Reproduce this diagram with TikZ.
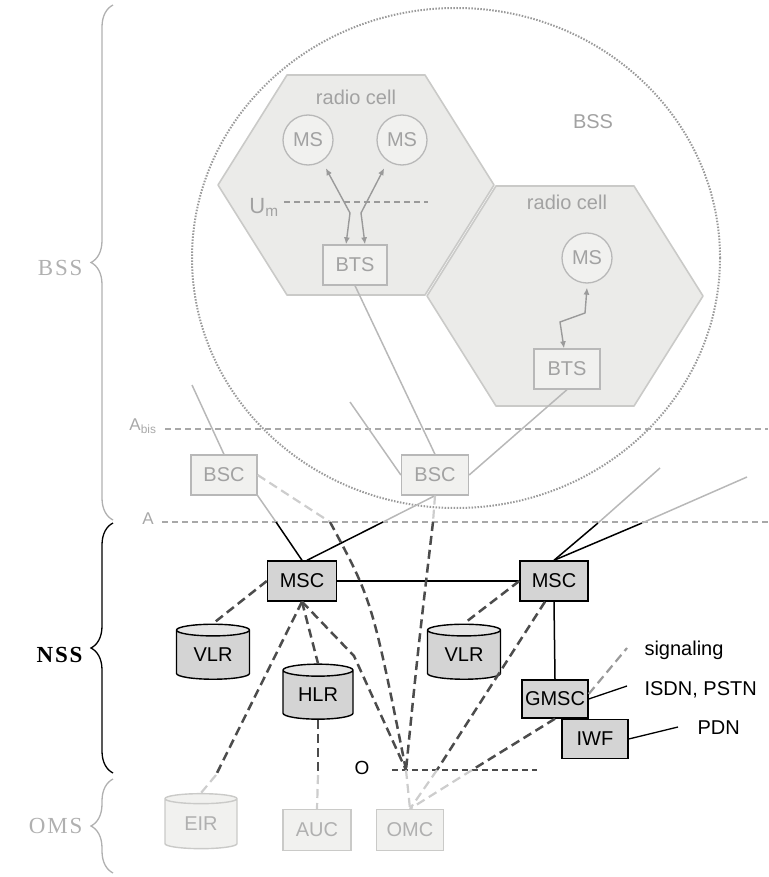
\documentclass[tikz,border=0pt]{standalone}
\usepackage{fontspec}
\setmainfont{Liberation Sans}
\newfontfamily\sideSerif[LetterSpace=8]{Liberation Serif}
\usepackage{tikz}
\usetikzlibrary{calc,arrows.meta}
\usetikzlibrary{shapes.geometric}
\usetikzlibrary{decorations.pathreplacing}
\usepackage{xcolor}

\begin{document}
\begin{tikzpicture}[
    >={Latex[length=7pt,width=6pt]}, x=1pt, y=-1pt,
    every node/.style={font=\fontsize{20}{24}\selectfont},
    accessBox/.style={draw=accessLine, fill=accessFill, text=accessText, line width=1.3pt, minimum width=66pt, minimum height=40pt, inner sep=0pt},
    coreBox/.style={draw=black, fill=coreFill, line width=1.4pt, minimum width=68pt, minimum height=40pt, inner sep=0pt},
    coreStore/.style={cylinder, shape border rotate=90, aspect=0.3, draw=black, line width=1.4pt, cylinder uses custom fill, cylinder body fill=coreFill, cylinder end fill=coreFill!60!white, minimum width=73pt, minimum height=55pt, inner sep=0pt},
    mobile/.style={circle, draw=accessLine, fill=accessFill, text=accessText, line width=1.3pt, minimum size=50pt, inner sep=0pt},
    cellStyle/.style={draw=cellLine, fill=cellFill, line width=1.6pt, line join=round},
    signalDash/.style={dash pattern=on 9pt off 5pt, line width=2.5pt, draw=signalDark},
    fadedDash/.style={dash pattern=on 9pt off 5pt, line width=2.2pt, draw=signalLight},
    trunk/.style={line width=1.5pt, draw=black},
    fadedTrunk/.style={line width=1.5pt, draw=accessLine},
    radioLink/.style={<->, line width=1.4pt, draw=radioGray},
    interfaceLine/.style={dash pattern=on 6pt off 4pt, line width=1.2pt, draw=ifaceGray},
]

% colors
\definecolor{cellFill}{HTML}{EBEBE9}
\definecolor{cellLine}{HTML}{CACAC8}
\definecolor{accessFill}{HTML}{F1F1EF}
\definecolor{accessLine}{HTML}{B8B8B8}
\definecolor{accessText}{HTML}{A2A2A2}
\definecolor{coreFill}{HTML}{D4D4D4}
\definecolor{signalDark}{HTML}{4C4C4C}
\definecolor{signalLight}{HTML}{CDCDCD}
\definecolor{radioGray}{HTML}{9A9A9A}
\definecolor{ifaceGray}{HTML}{A8A8A8}
\definecolor{sideGray}{HTML}{B0B0B0}

\useasboundingbox (0,0) rectangle (768,877);

% radio cell, center given in pixels
\newcommand\radioCell[2]{
    \draw[cellStyle] (#1-138,#2) -- (#1-69,#2-110) -- (#1+69,#2-110) -- (#1+138,#2) -- (#1+69,#2+110) -- (#1-69,#2+110) -- cycle;
}

% base station subsystem area
\coordinate (bssCenter) at (456,258);
\draw[radioGray, line width=2pt, dash pattern=on 1.5pt off 1.5pt] (bssCenter) ellipse [x radius=264pt, y radius=250pt];

\radioCell{356}{185}
\radioCell{565}{296}

\node[text=accessText] (cellLabelA) at (356,97) {radio cell};
\node[text=accessText] (cellLabelB) at (567,202) {radio cell};
\node[text=accessText] (bssLabel) at (593,122) {BSS};

% mobile stations and base transceivers
\node[mobile] (msA) at (308,140) {MS};
\node[mobile] (msB) at (402,140) {MS};
\node[mobile] (msC) at (587,258) {MS};
\node[accessBox, minimum width=64pt] (btsLeft) at (355,265) {BTS};
\node[accessBox] (btsRight) at (567,369) {BTS};

% air interface
\node[text=accessText, font=\fontsize{22}{26}\selectfont] (umLabel) at (264,207) {U\textsubscript{m}};
\coordinate (umStart) at (284,202);
\coordinate (umEnd) at (428,202);
\draw[interfaceLine, draw=radioGray] (umStart) -- (umEnd);

\coordinate (umLeft) at (350,213);
\coordinate (umRight) at (361,213);
\draw[radioLink] ([xshift=-9pt]btsLeft.north) -- (umLeft) -- ([shift={(5pt,-6pt)}]msA.-60);
\draw[radioLink] ([xshift=10pt]btsLeft.north) -- (umRight) -- ([shift={(-5pt,-6pt)}]msB.-120);

\coordinate (boltA) at (560,322);
\coordinate (boltB) at (585,313);
\draw[radioLink] ([xshift=-3pt]btsRight.north) -- (boltA) -- (boltB) -- ([yshift=-4pt]msC.south);

% A-bis and A interfaces
\node[text=ifaceGray, font=\fontsize{17}{20}\selectfont] (aBisLabel) at (143,426) {A\textsubscript{bis}};
\coordinate (aBisStart) at (165,429);
\coordinate (aBisEnd) at (768,429);
\draw[interfaceLine] (aBisStart) -- (aBisEnd);

\node[text=ifaceGray, font=\fontsize{17}{20}\selectfont] (aLabel) at (148,519) {A};
\coordinate (aStart) at (162,522);
\coordinate (aEnd) at (768,522);
\draw[interfaceLine] (aStart) -- (aEnd);

% base station controllers
\node[accessBox] (bscLeft) at (224,475) {BSC};
\node[accessBox, minimum width=67pt] (bscRight) at (435,475) {BSC};

\coordinate (stubLeft) at (192,385);
\coordinate (stubMid) at (350,402);
\draw[fadedTrunk] (stubLeft) -- (bscLeft.north);
\draw[fadedTrunk] (stubMid) -- (bscRight.west);
\draw[fadedTrunk] (btsLeft.south) -- (bscRight.north);
\draw[fadedTrunk] (btsRight.south) -- (bscRight.east);

% network switching subsystem
\node[coreBox, minimum width=69pt] (mscLeft) at (302,581) {MSC};
\node[coreBox] (mscRight) at (554,581) {MSC};
\node[coreStore] (vlrLeft) at (213,655) {VLR};
\node[coreStore] (vlrRight) at (464,655) {VLR};
\node[coreStore, minimum width=70pt] (hlr) at (318,695) {HLR};
\node[coreBox, minimum width=66pt, minimum height=38pt] (gmsc) at (555,699) {GMSC};
\node[coreBox, minimum width=66pt, minimum height=39pt] (iwf) at (595,739) {IWF};

% operation subsystem
\node[coreStore, draw=cellLine, cylinder body fill=accessFill, cylinder end fill=accessFill, text=sideGray, minimum width=72pt] (eir) at (201,824) {EIR};
\node[accessBox, draw=cellLine, text=sideGray, minimum width=68pt, minimum height=41pt] (auc) at (317,830) {AUC};
\node[accessBox, draw=cellLine, text=sideGray, minimum width=67pt, minimum height=41pt] (omc) at (410,830) {OMC};

% trunks to the switching centers
\coordinate (aCrossA) at (276,522);
\coordinate (aCrossB) at (383,522);
\draw[fadedTrunk] (bscLeft.south east) -- (aCrossA);
\draw[trunk] (aCrossA) -- (mscLeft.north);
\draw[fadedTrunk] (bscRight.south) -- (aCrossB);
\draw[trunk] (aCrossB) -- ([xshift=5pt]mscLeft.north);

\coordinate (aCrossC) at (598,523);
\coordinate (aCrossD) at (642,523);
\coordinate (trunkA) at (660,468);
\coordinate (trunkB) at (747,477);
\draw[trunk] (mscRight.north) -- (aCrossC);
\draw[trunk] (mscRight.north) -- (aCrossD);
\draw[fadedTrunk] (aCrossC) -- (trunkA);
\draw[fadedTrunk] (aCrossD) -- (trunkB);

\draw[trunk] (mscLeft.east) -- (mscRight.west);
\draw[trunk] (mscRight.south) -- (gmsc.north);

% O interface
\node[font=\fontsize{19}{22}\selectfont] (oLabel) at (362,768) {O};
\coordinate (oStart) at (392,770);
\coordinate (oEnd) at (537,770);
\coordinate (oJoin) at (406,770);
\coordinate (oMid) at (437,770);
\coordinate (oEast) at (472,770);
\draw[signalDash, line width=2pt, dash pattern=on 6pt off 4pt] (oStart) -- (oEnd);

% signaling connections
\coordinate (hlrBend) at (354,656);
\coordinate (bscFadeA) at (330,522);
\coordinate (bscFadeB) at (433,522);
\coordinate (eirFade) at (216,775);
\coordinate (aucFade) at (318,775);

\draw[signalDash] (mscLeft.west) -- (vlrLeft.north);
\draw[signalDash] (mscLeft.south) -- (hlr.north);
\draw[signalDash] (mscLeft.south) -- (eirFade);
\draw[fadedDash] (eirFade) -- (eir.north);
\draw[signalDash] (mscLeft.south) -- (hlrBend) -- (oJoin);

\draw[fadedDash] (bscLeft.east) -- (bscFadeA);
\draw[signalDash] (bscFadeA) .. controls (372,600) .. (oJoin);
\draw[fadedDash] (bscRight.south) -- (bscFadeB);
\draw[signalDash] (bscFadeB) .. controls (418,650) .. (oJoin);

\draw[signalDash] (hlr.south) -- (aucFade);
\draw[fadedDash] (aucFade) -- (auc.north);

\draw[signalDash] (mscRight.west) -- (vlrRight.north);
\draw[signalDash] ([xshift=-9pt]mscRight.south) -- (oMid);
\draw[signalDash] (gmsc.south) -- (oEast);

\draw[fadedDash] (oJoin) -- (omc.north);
\draw[fadedDash] (oMid) -- (omc.north);
\draw[fadedDash] (oEast) -- (omc.north);

% external networks
\coordinate (sigEnd) at (627,648);
\coordinate (isdnEnd) at (627,686);
\coordinate (pdnEnd) at (678,727);
\draw[signalDash, draw=radioGray, line width=2.2pt] ([yshift=5pt]gmsc.east) -- (sigEnd);
\draw[trunk, line width=1.3pt] (gmsc.east) -- (isdnEnd);
\draw[trunk, line width=1.3pt] (iwf.east) -- (pdnEnd);
\node[anchor=west] (sigLabel) at (641,650) {signaling};
\node[anchor=west] (isdnLabel) at (641,690) {ISDN, PSTN};
\node[anchor=west] (pdnLabel) at (694,728) {PDN};

% subsystem braces
\draw[sideGray, line width=1.3pt, decorate, decoration={brace, amplitude=22pt}] (113,520) -- (113,5);
\draw[black, line width=1.3pt, decorate, decoration={brace, amplitude=22pt}] (113,773) -- (113,523);
\draw[sideGray, line width=1.3pt, decorate, decoration={brace, amplitude=22pt}] (113,873) -- (113,779);

\node[anchor=east, text=sideGray, font=\sideSerif\fontsize{23}{26}\selectfont] (bssSide) at (86,268) {BSS};
\node[anchor=east, text=black, font=\sideSerif\bfseries\fontsize{23}{26}\selectfont] (nssSide) at (86,655) {NSS};
\node[anchor=east, text=sideGray, font=\sideSerif\fontsize{23}{26}\selectfont] (omsSide) at (86,826) {OMS};

\end{tikzpicture}
\end{document}
